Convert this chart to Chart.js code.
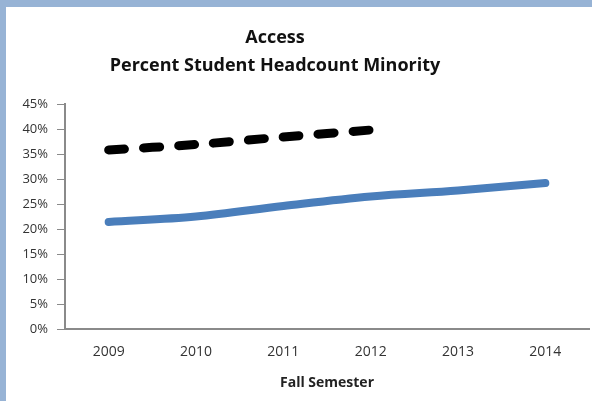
<!DOCTYPE html>
<html>
<head>
<meta charset="utf-8">
<script src="https://cdn.jsdelivr.net/npm/chart.js@4/dist/chart.umd.min.js"></script>
<style>
  html, body { margin: 0; padding: 0; background: #fff; }
  #frame {
    position: absolute; left: 0; top: 0;
    width: 586px; height: 394px;
    border-top: 7px solid #97b3d5;
    border-left: 6px solid #97b3d5;
    background: #fff;
  }
  #chart { display: block; }
</style>
</head>
<body>
<div id="frame"><canvas id="chart" width="586" height="394"></canvas></div>
<script>
// data
const years       = ['2009', '2010', '2011', '2012', '2013', '2014'];
const minorityPct = [21.4, 22.5, 24.6, 26.5, 27.7, 29.2];
const comparePct  = [35.8, 36.9, 38.4, 39.8, null, null];
const yTicks      = [0, 5, 10, 15, 20, 25, 30, 35, 40, 45];
const titleLines  = ['Access', 'Percent Student Headcount Minority'];

const FONT = "'Open Sans', 'Noto Sans', sans-serif";

// two-line headline, centred a bit left of the canvas middle like the original
const headline = {
  id: 'headline',
  afterDraw(chart) {
    const c = chart.ctx;
    c.save();
    c.fillStyle = '#111';
    c.font = 'bold 18px ' + FONT;
    c.textAlign = 'center';
    c.textBaseline = 'middle';
    titleLines.forEach((t, i) => c.fillText(t, 269, 31 + i * 28));
    c.restore();
  }
};

new Chart(document.getElementById('chart'), {
  type: 'line',
  data: {
    labels: years,
    datasets: [
      {
        label: 'Comparison',
        data: comparePct,
        borderColor: '#000',
        borderWidth: 9,
        borderDash: [16, 19],
        borderCapStyle: 'round',
        pointRadius: 0,
        tension: 0.3,
        spanGaps: false
      },
      {
        label: 'Student headcount minority',
        data: minorityPct,
        borderColor: '#4a7ebb',
        borderWidth: 8,
        borderCapStyle: 'round',
        pointRadius: 0,
        tension: 0.35
      }
    ]
  },
  options: {
    responsive: false,
    animation: false,
    layout: { padding: { top: 97, right: 3, bottom: 0, left: 0 } },
    plugins: { legend: { display: false }, tooltip: { enabled: false }, title: { display: false } },
    scales: {
      x: {
        offset: true,
        grid: { display: true, drawOnChartArea: false, drawTicks: false, color: 'rgba(0,0,0,0)' },
        border: { display: true, color: '#8a8a8a', width: 2 },
        ticks: { color: '#333', font: { family: FONT, size: 14 }, padding: 15, maxRotation: 0 },
        title: { display: true, text: 'Fall Semester', color: '#222', font: { family: FONT, size: 14, weight: 'bold' }, padding: { top: 0, bottom: 10 } },
        afterFit: s => { s.height = 72; }
      },
      y: {
        min: 0, max: 45,
        afterBuildTicks: s => { s.ticks = yTicks.map(v => ({ value: v })); },
        grid: { display: true, drawOnChartArea: false, drawTicks: true, tickLength: 8, color: '#8a8a8a', lineWidth: 1 },
        border: { display: true, color: '#8a8a8a', width: 2 },
        ticks: { color: '#333', font: { family: FONT, size: 13 }, padding: 9, callback: v => v + '%' },
        afterFit: s => { s.width = 59; }
      }
    }
  },
  plugins: [headline]
});
</script>
</body>
</html>
